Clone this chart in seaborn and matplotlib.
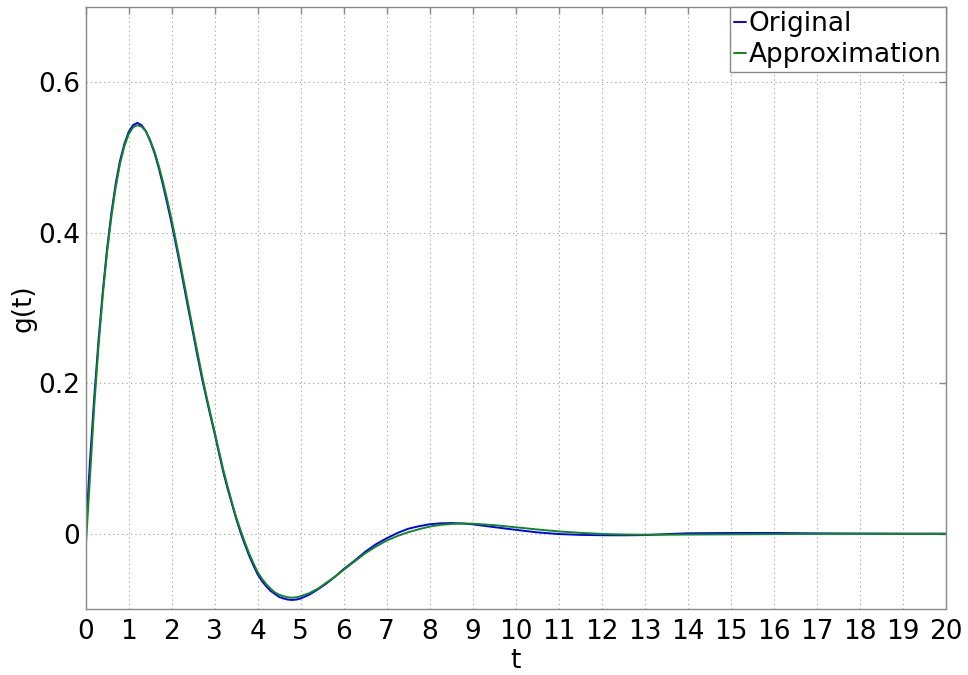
import matplotlib
matplotlib.use("Agg")
import matplotlib.pyplot as plt
import seaborn as sns
import pandas as pd

t_values = [0, 0.1, 0.2, 0.3, 0.4, 0.5, 0.6, 0.7, 0.8, 0.9,
            1.0, 1.1, 1.2, 1.3, 1.4, 1.5, 1.6, 1.7, 1.8, 1.9,
            2.0, 2.1, 2.2, 2.3, 2.4, 2.5, 2.6, 2.7, 2.8, 2.9,
            3.0, 3.1, 3.2, 3.3, 3.4, 3.5, 3.6, 3.7, 3.8, 3.9,
            4.0, 4.1, 4.2, 4.3, 4.4, 4.5, 4.6, 4.7, 4.8, 4.9,
            5.0, 5.2, 5.4, 5.6, 5.8, 6.0, 6.25, 6.5, 6.75, 7.0,
            7.25, 7.5, 7.75, 8.0, 8.25, 8.5, 8.75, 9.0, 9.5, 10.0,
            10.5, 11.0, 11.5, 12.0, 12.5, 13.0, 13.5, 14.0, 15.0, 16.0,
            17.0, 18.0, 19.0, 20.0]

original = [0.0, 0.096, 0.182, 0.258, 0.323, 0.380, 0.427, 0.466, 0.496, 0.518,
            0.534, 0.543, 0.546, 0.543, 0.535, 0.522, 0.506, 0.486, 0.463, 0.438,
            0.412, 0.384, 0.355, 0.325, 0.295, 0.266, 0.236, 0.208, 0.182, 0.157,
            0.133, 0.107, 0.082, 0.060, 0.040, 0.020, 0.002, -0.014, -0.029, -0.042,
            -0.054, -0.063, -0.070, -0.076, -0.080, -0.084, -0.086, -0.0875, -0.088, -0.0875,
            -0.086, -0.081, -0.074, -0.066, -0.057, -0.047, -0.036, -0.024, -0.014, -0.006,
            0.001, 0.0066, 0.010, 0.0126, 0.0138, 0.0142, 0.0137, 0.0125, 0.0088, 0.0052,
            0.0018, -0.0004, -0.0015, -0.0020, -0.0021, -0.0018, -0.0005, 0.0006, 0.0010, 0.0010,
            0.0005, 0.0002, 0.0, 0.0]

approximation = [-0.020, 0.075, 0.170, 0.250, 0.318, 0.375, 0.422, 0.461, 0.492, 0.515,
                 0.531, 0.540, 0.543, 0.541, 0.535, 0.523, 0.508, 0.489, 0.467, 0.443,
                 0.417, 0.389, 0.360, 0.330, 0.300, 0.270, 0.241, 0.212, 0.185, 0.160,
                 0.135, 0.110, 0.085, 0.063, 0.042, 0.022, 0.005, -0.011, -0.026, -0.039,
                 -0.051, -0.060, -0.067, -0.073, -0.078, -0.081, -0.083, -0.0845, -0.085, -0.0845,
                 -0.083, -0.079, -0.073, -0.065, -0.057, -0.048, -0.037, -0.026, -0.017, -0.009,
                 -0.003, 0.002, 0.006, 0.0095, 0.0118, 0.0130, 0.0136, 0.0134, 0.0114, 0.0086,
                 0.0057, 0.0031, 0.0012, -0.0003, -0.0010, -0.0013, -0.0013, -0.0011, -0.0008, -0.0005,
                 -0.0002, 0.0, 0.0, 0.0]

series_names = ["Original", "Approximation"]
colors = {"Original": "#0000ff", "Approximation": "#11881a"}

df = pd.concat([
    pd.DataFrame({"t": t_values, "g": original, "series": series_names[0]}),
    pd.DataFrame({"t": t_values, "g": approximation, "series": series_names[1]}),
], ignore_index=True)

sns.set_theme(style="white")
plt.rcParams['font.family'] = ['DejaVu Sans']
plt.rcParams['text.color'] = 'black'
plt.rcParams['axes.labelcolor'] = 'black'

fig = plt.figure(figsize=(9.68, 6.75), dpi=100)
ax = fig.add_axes([0.0885, 0.0978, 0.8885, 0.8918])

sns.lineplot(data=df, x="t", y="g", hue="series", palette=colors, hue_order=series_names,
             estimator=None, sort=False, linewidth=1.4, ax=ax)

ax.set_xlim(0, 20)
ax.set_ylim(-0.1, 0.7)
ax.set_xticks(range(0, 21))
ax.set_yticks([0, 0.2, 0.4, 0.6])
ax.set_yticklabels(["0", "0.2", "0.4", "0.6"])
ax.grid(True, linestyle=(0, (1, 3)), color="#999999", linewidth=0.8)
ax.tick_params(axis="both", which="both", direction="in", length=5, width=1,
               colors="#888888", labelcolor="black", labelsize=19, top=True, right=True)
ax.tick_params(axis="x", pad=7.5)
ax.tick_params(axis="y", pad=4)
for sp in ax.spines.values():
    sp.set_visible(True)
    sp.set_color("#888888")
    sp.set_linewidth(1.0)

ax.set_xlabel("t", fontsize=19, labelpad=2, color="black")
ax.set_ylabel("g(t)", fontsize=19, labelpad=1, color="black")

leg = ax.legend(loc="upper right", fontsize=19, frameon=True, fancybox=False,
                framealpha=1, edgecolor="#888888", borderaxespad=0, handlelength=0.45,
                handletextpad=0.1, borderpad=0.15, labelspacing=0.2)
leg.get_frame().set_linewidth(1.0)
for txt in leg.get_texts():
    txt.set_color("black")

fig.savefig("out.png", dpi=100)
